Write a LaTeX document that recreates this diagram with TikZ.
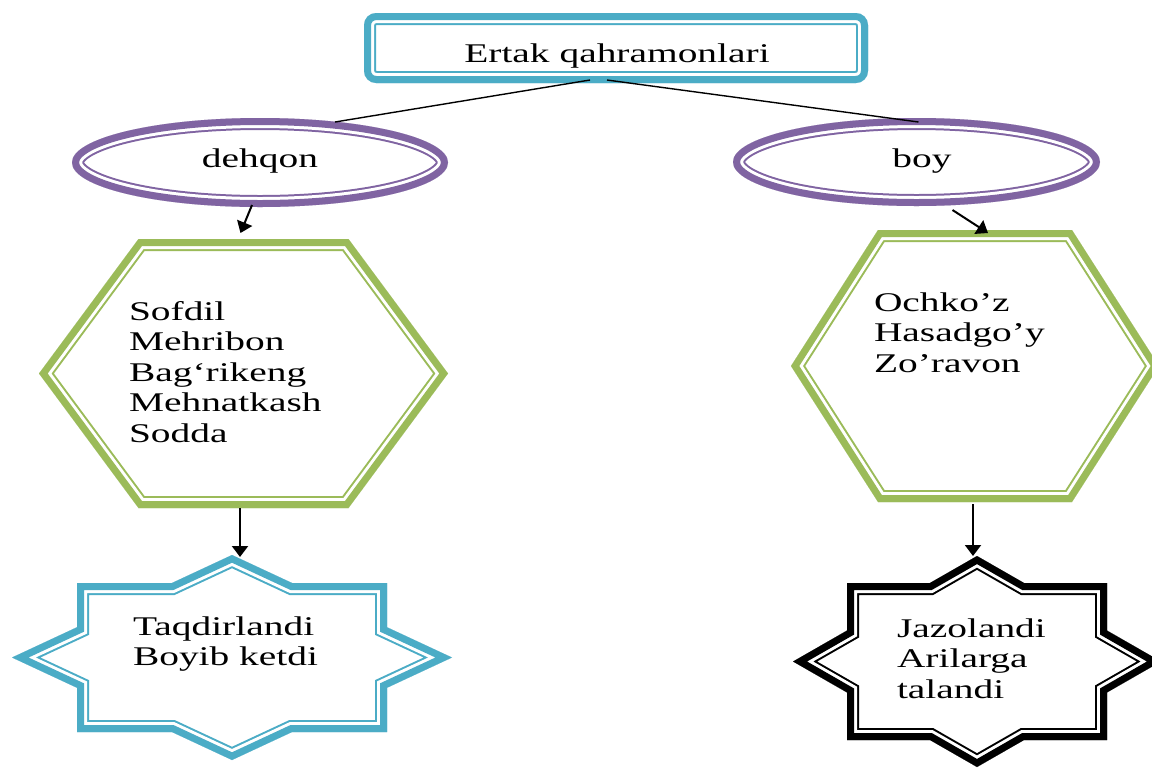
\documentclass[tikz,border=0pt]{standalone}
\usepackage{fontspec}
\setmainfont{Liberation Serif}
\usepackage{graphicx}
\usetikzlibrary{shapes.geometric,calc,arrows.meta}
\definecolor{aqua}{HTML}{4BACC6}
\definecolor{violettwo}{HTML}{8064A2}
\definecolor{olivetwo}{HTML}{9BBB59}

\newcommand\wide[1]{\scalebox{1.46}[1]{#1}}
\newcommand\txtlines[1]{\wide{\begin{tabular}[t]{@{}l@{}}#1\end{tabular}}}
% thick-thin double border drawn inside a closed path
\newcommand\dbl[2]{%
  \begin{scope}
    \clip #1;
    \draw[#2, line width=12pt] #1;
    \draw[white, line width=10pt] #1;
    \draw[#2, line width=7pt] #1;
  \end{scope}}
\newcommand\hexshape[6]{%
  \begin{scope}[shift={(#1,#2)}]
    \dbl{(-#3,0) -- (-#4,-#5) -- (#4,-#5) -- (#3,0) -- (#4,#5) -- (-#4,#5) -- cycle}{#6}
  \end{scope}}
\newcommand\starshape[7]{%
  \pgfmathsetmacro\spx{#3*(1-#6/#4)}%
  \pgfmathsetmacro\spy{#4*(1-#5/#3)}%
  \begin{scope}[shift={(#1,#2)}]
    \dbl{(0,-#4) -- (\spx,-#6) -- (#5,-#6) -- (#5,-\spy) -- (#3,0) -- (#5,\spy) -- (#5,#6) -- (\spx,#6) -- (0,#4) -- (-\spx,#6) -- (-#5,#6) -- (-#5,\spy) -- (-#3,0) -- (-#5,-\spy) -- (-#5,-#6) -- (-\spx,-#6) -- cycle}{#7}
  \end{scope}}

\begin{document}
\begin{tikzpicture}[x=0.5pt,y=-0.5pt,
  txt/.style={inner sep=0pt, outer sep=0pt, font=\fontsize{13.5}{15.25}\selectfont},
  anchorbox/.style={rectangle, draw=none, inner sep=0pt, outer sep=0pt},
  link/.style={draw=black, line width=0.7pt},
  arr/.style={draw=black, line width=1pt, -{Triangle[length=5.5pt,width=8pt]}}]

\useasboundingbox (0,0) rectangle (1152,767);
\fill[white] (0,0) rectangle (1152,767);

% top box
\dbl{[rounded corners=6pt] (364,13) rectangle (868,83)}{aqua}
\node[anchorbox, minimum width=252pt, minimum height=35pt] (top) at (616,48) {};
\node[txt, anchor=base] (toptxt) at (617,62) {\wide{Ertak qahramonlari}};

% ellipses
\dbl{(260,162.5) ellipse [x radius=94pt, y radius=22.25pt]}{violettwo}
\node[anchorbox, ellipse, minimum width=188pt, minimum height=44.5pt] (ellL) at (260,162.5) {};
\node[txt, anchor=base] (dehqon) at (260,167) {\wide{dehqon}};

\dbl{(916.5,162) ellipse [x radius=91.75pt, y radius=22pt]}{violettwo}
\node[anchorbox, ellipse, minimum width=183.5pt, minimum height=44pt] (ellR) at (916.5,162) {};
\node[txt, anchor=base] (boy) at (922,167) {\wide{boy}};

% hexagons
\hexshape{243.5}{373.5}{204.5}{105}{134.5}{olivetwo}
\node[anchorbox, minimum width=204.5pt, minimum height=134.5pt] (hexL) at (243.5,373.5) {};
\node[txt, anchor=base west] (hexLtxt) at (129,320) {\txtlines{Sofdil\\Mehribon\\Bag‘rikeng\\Mehnatkash\\Sodda}};

\hexshape{975}{366}{184}{97}{136}{olivetwo}
\node[anchorbox, minimum width=184pt, minimum height=136pt] (hexR) at (975,366) {};
\node[txt, anchor=base west] (hexRtxt) at (874,311) {\txtlines{Ochko’z\\Hasadgo’y\\Zo’ravon}};

% stars
\starshape{232}{657.5}{220}{102.5}{155}{74.5}{aqua}
\node[anchorbox, minimum width=220pt, minimum height=102.5pt] (starL) at (232,657.5) {};
\node[txt, anchor=base west] (starLtxt) at (133,635) {\txtlines{Taqdirlandi\\Boyib ketdi}};

\starshape{977}{661.5}{184}{105.5}{130}{78.5}{black}
\node[anchorbox, minimum width=184pt, minimum height=105.5pt] (starR) at (977,661.5) {};
\node[txt, anchor=base west] (starRtxt) at (897,637) {\txtlines{Jazolandi\\Arilarga\\talandi}};

% connectors
\draw[link] ($(top.south)+(-26,-3)$) -- ($(ellL.north)+(75,4)$);
\draw[link] ($(top.south)+(-9,-3)$) -- ($(ellR.north)+(2,4)$);
\draw[arr] ($(ellL.south)+(-8,-2)$) -- ($(hexL.north)+(-3,-6)$);
\draw[arr] ($(ellR.south)+(36,4)$) -- ($(hexR.north)+(13,3)$);
\draw[arr] ($(hexL.south)+(-3.5,0)$) -- ($(starL.north)+(8,2)$);
\draw[arr] ($(hexR.south)+(-2,2)$) -- ($(starR.north)+(-4,0)$);
\end{tikzpicture}
\end{document}
